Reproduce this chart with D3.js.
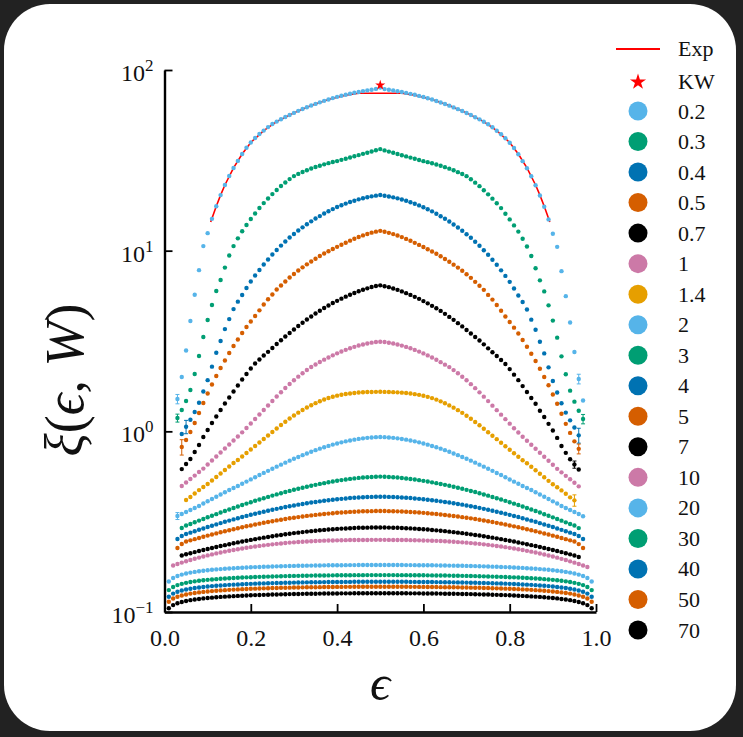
<!DOCTYPE html>
<html>
<head>
<meta charset="utf-8">
<script src="https://d3js.org/d3.v7.min.js"></script>
<style>
html, body { margin:0; padding:0; background:#222222; overflow:hidden; }
svg text { font-family: "Liberation Serif", "Times New Roman", serif; fill:#111; }
</style>
</head>
<body>
<script>

//DATA: epsilon grid (x values) shared by all W series
var eps = [0.01,0.02,0.03,0.04,0.05,0.06,0.07,0.08,0.09,0.10,
0.11,0.12,0.13,0.14,0.15,0.16,0.17,0.18,0.19,0.20,
0.21,0.22,0.23,0.24,0.25,0.26,0.27,0.28,0.29,0.30,
0.31,0.32,0.33,0.34,0.35,0.36,0.37,0.38,0.39,0.40,
0.41,0.42,0.43,0.44,0.45,0.46,0.47,0.48,0.49,0.50,
0.51,0.52,0.53,0.54,0.55,0.56,0.57,0.58,0.59,0.60,
0.61,0.62,0.63,0.64,0.65,0.66,0.67,0.68,0.69,0.70,
0.71,0.72,0.73,0.74,0.75,0.76,0.77,0.78,0.79,0.80,
0.81,0.82,0.83,0.84,0.85,0.86,0.87,0.88,0.89,0.90,
0.91,0.92,0.93,0.94,0.95,0.96,0.97,0.98,0.99];

var xi_0_2 = [null,null,
1.51,2.0,2.8,4.08,5.7,7.8,10.6,12.5,15.0,17.6,20.3,23.1,25.9,28.7,31.4,34.3,37.1,39.7,42.0,44.2,46.2,48.3,50.2,51.8,53.4,54.9,56.4,57.9,59.4,60.8,62.2,63.6,64.9,66.2,67.5,68.7,69.9,71.0,72.0,73.0,73.9,74.8,75.6,76.4,77.1,77.8,78.6,
80.0,
78.4,77.7,77.0,76.3,75.5,74.7,73.8,72.9,71.9,70.9,69.8,68.6,67.4,66.1,64.8,63.5,62.1,60.7,59.3,57.8,56.3,54.8,53.3,51.7,50.1,48.2,46.1,44.1,41.9,39.6,37.0,34.2,31.3,28.6,25.8,23.0,20.2,17.5,14.9,12.4,10.5,7.7,5.6,4.0,2.75,1.95,1.48,
null,null];

var xi_0_3 = [null,null,
1.185,1.312,1.472,1.693,2.076,2.61,3.33,4.13,5.00,5.98,6.88,8.06,9.4,10.6,11.7,12.8,13.86,14.96,16.05,17.21,18.34,19.43,20.57,21.65,22.78,23.83,24.90,25.87,26.6,27.25,27.86,28.47,29.02,29.54,30.04,30.50,30.93,31.32,31.81,32.29,32.80,33.30,33.81,34.34,34.86,35.40,35.95,
36.5,
35.9,35.35,34.8,34.3,33.75,33.25,32.75,32.25,31.75,31.3,30.9,30.45,30.0,29.5,29.0,28.45,27.85,27.2,26.55,25.85,24.85,23.8,22.75,21.6,20.5,19.4,18.3,17.2,16.0,14.9,13.8,12.75,11.65,10.55,9.35,8.0,6.85,5.95,4.98,4.1,3.3,2.6,2.07,1.68,1.46,1.30,1.17,
null,null];

var xi_0_4 = [null,null,null,
0.966,1.06,1.16,1.28,1.44,1.66,1.92,2.28,2.72,3.16,3.68,4.18,4.75,5.22,5.68,6.21,6.745,7.283,7.811,8.378,8.929,9.515,10.08,10.67,11.23,11.82,12.36,12.92,13.46,14.00,14.53,15.06,15.54,16.05,16.53,16.99,17.43,17.84,18.22,18.58,18.91,19.23,19.50,19.75,19.98,20.16,
20.32,
20.14,19.96,19.73,19.48,19.2,18.88,18.55,18.2,17.8,17.4,16.95,16.5,16.02,15.5,15.02,14.5,13.97,13.43,12.89,12.33,11.78,11.2,10.64,10.05,9.49,8.9,8.35,7.78,7.25,6.72,6.18,5.65,5.2,4.72,4.15,3.65,3.13,2.7,2.26,1.9,1.64,1.43,1.27,1.15,1.05,0.95,
null,null,null];

var xi_0_5 = [null,null,null,
0.819,0.895,0.991,1.112,1.263,1.435,1.619,1.816,2.023,2.240,2.465,2.713,2.966,3.221,3.499,3.778,4.053,4.346,4.673,5.031,5.383,5.715,6.091,6.410,6.745,7.097,7.421,7.761,8.084,8.398,8.714,9.020,9.335,9.638,9.925,10.21,10.50,10.78,11.07,11.36,11.64,11.91,12.15,12.37,12.58,12.74,
12.87,
12.72,12.55,12.35,12.13,11.89,11.62,11.34,11.05,10.76,10.48,10.19,9.9,9.61,9.31,9.0,8.69,8.37,8.06,7.74,7.4,7.07,6.72,6.39,6.07,5.69,5.36,5.0,4.65,4.32,4.03,3.75,3.48,3.2,2.94,2.69,2.45,2.22,2.0,1.8,1.6,1.42,1.25,1.1,0.98,0.88,0.8,
null,null,null];

var xi_0_7 = [null,null,null,
0.618,0.659,0.703,0.768,0.840,0.930,1.017,1.112,1.208,1.312,1.425,1.539,1.661,1.793,1.935,2.076,2.227,2.373,2.496,2.628,2.754,2.891,3.042,3.193,3.347,3.499,3.659,3.826,3.990,4.156,4.318,4.487,4.651,4.813,4.969,5.129,5.275,5.425,5.564,5.701,5.833,5.961,6.076,6.186,6.289,6.370,
6.427,
6.36,6.28,6.18,6.07,5.95,5.82,5.69,5.55,5.41,5.26,5.11,4.95,4.8,4.64,4.47,4.3,4.14,3.97,3.81,3.64,3.48,3.33,3.18,3.03,2.88,2.74,2.61,2.48,2.36,2.21,2.06,1.92,1.78,1.65,1.53,1.42,1.3,1.2,1.1,1.01,0.92,0.83,0.76,0.7,0.655,0.615,
null,null,null];

var xi_1 = [null,null,null,
0.498,0.521,0.545,0.569,0.595,0.622,0.655,0.689,0.725,0.763,0.803,0.845,0.889,0.936,0.987,1.043,1.105,1.170,1.239,1.312,1.389,1.472,1.558,1.646,1.736,1.827,1.918,2.008,2.097,2.184,2.270,2.342,2.418,2.493,2.564,2.634,2.702,2.765,2.825,2.884,2.935,2.984,3.026,3.065,3.097,3.121,
3.132,
3.12,3.095,3.063,3.024,2.982,2.933,2.883,2.823,2.763,2.7,2.632,2.562,2.49,2.415,2.34,2.268,2.182,2.095,2.006,1.916,1.825,1.734,1.644,1.556,1.47,1.387,1.31,1.237,1.168,1.103,1.041,0.985,0.934,0.887,0.843,0.801,0.761,0.723,0.687,0.653,0.62,0.593,0.567,0.543,0.519,0.496,
null,null,null];

var xi_1_4 = [null,null,null,null,
0.417,0.433,0.453,0.473,0.492,0.511,0.534,0.559,0.584,0.611,0.639,0.668,0.694,0.725,0.759,0.793,0.829,0.867,0.907,0.948,0.991,1.036,1.084,1.130,1.177,1.223,1.269,1.312,1.354,1.394,1.432,1.467,1.500,1.529,1.554,1.576,1.594,1.608,1.621,1.631,1.639,1.646,1.650,1.652,1.654,
1.655,
1.653,1.651,1.648,1.644,1.637,1.629,1.619,1.606,1.592,1.574,1.552,1.527,1.498,1.465,1.43,1.392,1.352,1.31,1.266,1.22,1.174,1.127,1.081,1.033,0.988,0.945,0.905,0.865,0.827,0.791,0.757,0.723,0.692,0.666,0.637,0.609,0.582,0.557,0.532,0.509,0.49,0.471,0.451,0.431,0.415,
null,null,null,null];

var xi_2 = [null,null,
0.340,0.3485,0.3576,0.3668,0.3763,0.3861,0.3986,0.4100,0.4222,0.4348,0.4472,0.4599,0.4735,0.4858,0.4983,0.5125,0.5269,0.5418,0.5572,0.5730,0.5886,0.6045,0.6209,0.6377,0.6542,0.6711,0.6884,0.7052,0.7215,0.7383,0.7545,0.7710,0.7870,0.8022,0.8166,0.8303,0.8442,0.8571,0.8691,0.8804,0.8904,0.8996,0.9078,0.9147,0.9205,0.9252,0.9288,
0.930,
0.9285,0.925,0.9203,0.9145,0.9075,0.8993,0.8901,0.8801,0.8688,0.8568,0.8439,0.83,0.8163,0.8019,0.7867,0.7707,0.7542,0.738,0.7212,0.7049,0.6881,0.6708,0.6539,0.6374,0.6206,0.6042,0.5883,0.5727,0.557,0.5416,0.5267,0.5123,0.4981,0.4856,0.4733,0.4597,0.447,0.4346,0.422,0.4098,0.3985,0.386,0.3762,0.3667,0.3575,0.3484,0.339,
null,null];

var xi_3 = [null,null,null,
0.2916,0.3011,0.3069,0.3136,0.3205,0.3271,0.3343,0.3411,0.3481,0.3553,0.3622,0.3692,0.3763,0.3836,0.3910,0.3980,0.4052,0.4125,0.4194,0.4264,0.4335,0.4408,0.4476,0.4544,0.4615,0.4680,0.4746,0.4813,0.4875,0.4937,0.5000,0.5057,0.5116,0.5168,0.5222,0.5275,0.5322,0.5370,0.5412,0.5453,0.5488,0.5523,0.5551,0.5572,0.5593,0.5608,
0.5615,
0.5606,0.559,0.557,0.5548,0.552,0.5485,0.545,0.5409,0.5367,0.5319,0.5272,0.5219,0.5165,0.5113,0.5055,0.4998,0.4935,0.4873,0.4811,0.4744,0.4678,0.4613,0.4542,0.4474,0.4406,0.4333,0.4262,0.4192,0.4123,0.405,0.3978,0.3908,0.3834,0.3761,0.369,0.362,0.3551,0.3479,0.3409,0.3341,0.3269,0.3203,0.3134,0.3067,0.3009,0.2914,
null,null,null];

var xi_4 = [null,null,
0.2535,0.2633,0.2701,0.2750,0.2799,0.2850,0.2901,0.2954,0.3003,0.3054,0.3105,0.3157,0.3205,0.3254,0.3304,0.3355,0.3403,0.3451,0.3499,0.3544,0.3589,0.3635,0.3681,0.3724,0.3767,0.3811,0.3850,0.3889,0.3929,0.3964,0.3999,0.4035,0.4066,0.4097,0.4128,0.4155,0.4182,0.4208,0.4230,0.4252,0.4274,0.4290,0.4307,0.4318,0.4329,0.4335,0.4341,
0.4346,
0.4341,0.4335,0.4328,0.4317,0.4305,0.4289,0.4272,0.4251,0.4229,0.4207,0.418,0.4154,0.4126,0.4096,0.4065,0.4034,0.3998,0.3963,0.3928,0.3888,0.3849,0.381,0.3766,0.3723,0.368,0.3634,0.3588,0.3543,0.3498,0.345,0.3402,0.3353,0.3303,0.3253,0.3204,0.3156,0.3104,0.3053,0.3002,0.2953,0.29,0.2849,0.2798,0.2749,0.27,0.2632,0.2534,
null,null];

var xi_5 = [null,null,
0.2260,0.2378,0.2455,0.2493,0.2531,0.2570,0.2610,0.2647,0.2684,0.2723,0.2761,0.2799,0.2836,0.2872,0.2909,0.2946,0.2980,0.3014,0.3049,0.3084,0.3116,0.3148,0.3180,0.3213,0.3242,0.3271,0.3300,0.3326,0.3351,0.3377,0.3403,0.3425,0.3447,0.3469,0.3486,0.3504,0.3522,0.3540,0.3553,0.3567,0.3581,0.3590,0.3599,0.3608,0.3613,0.3617,0.3622,
0.3622,
0.3621,0.3616,0.3612,0.3607,0.3598,0.3589,0.358,0.3566,0.3552,0.3539,0.3521,0.3503,0.3485,0.3468,0.3446,0.3424,0.3402,0.3376,0.335,0.3325,0.3299,0.327,0.3241,0.3212,0.3179,0.3147,0.3115,0.3083,0.3048,0.3013,0.2979,0.2945,0.2908,0.2871,0.2835,0.2798,0.276,0.2722,0.2683,0.2646,0.2609,0.2569,0.253,0.2492,0.2454,0.2376,0.2259,
null,null];

var xi_7 = [null,null,null,
0.2054,0.2086,0.2116,0.2146,0.2176,0.2204,0.2232,0.2260,0.2289,0.2318,0.2345,0.2372,0.2400,0.2428,0.2455,0.2481,0.2506,0.2531,0.2557,0.2580,0.2603,0.2626,0.2650,0.2670,0.2692,0.2712,0.2733,0.2750,0.2768,0.2786,0.2803,0.2818,0.2832,0.2847,0.2861,0.2872,0.2883,0.2894,0.2901,0.2909,0.2916,0.2924,0.2928,0.2931,0.2935,0.2935,
0.2936,
0.2934,0.2932,0.2929,0.2925,0.2917,0.291,0.2902,0.2893,0.2882,0.2871,0.286,0.2846,0.2831,0.2817,0.2802,0.2785,0.2767,0.2749,0.2732,0.2711,0.2691,0.2669,0.2649,0.2625,0.2602,0.2579,0.2556,0.253,0.2505,0.248,0.2454,0.2427,0.2399,0.2371,0.2344,0.2317,0.2288,0.2259,0.2231,0.2203,0.2175,0.2145,0.2115,0.2085,0.2053,0.2015,
null,null,null];

var xi_10 = [null,
0.1809,0.1843,0.1877,0.1908,0.1940,0.1970,0.2000,0.2028,0.2057,0.2083,0.2110,0.2134,0.2159,0.2181,0.2204,0.2226,0.2246,0.2266,0.2287,0.2304,0.2322,0.2339,0.2354,0.2369,0.2384,0.2396,0.2408,0.2421,0.2430,0.2439,0.2449,0.2458,0.2464,0.2470,0.2477,0.2483,0.2486,0.2489,0.2493,0.2496,0.2499,0.2502,0.2502,0.2505,0.2505,0.2505,0.2508,0.2508,
0.2508,
0.2508,0.2507,0.2505,0.2504,0.2503,0.2501,0.2498,0.2495,0.2492,0.2488,0.2485,0.2481,0.2476,0.247,0.2463,0.2457,0.2448,0.2438,0.2429,0.242,0.2407,0.2395,0.2383,0.2368,0.2353,0.2338,0.2321,0.2303,0.2286,0.2265,0.2245,0.2225,0.2203,0.218,0.2158,0.2133,0.2109,0.2082,0.2056,0.2027,0.1999,0.1969,0.1939,0.1907,0.1876,0.1842,0.1808,0.1775,
null];

var xi_20 = [
0.1475,0.1542,0.1582,0.1611,0.1633,0.1652,0.1667,0.1681,0.1692,0.1703,0.1712,0.1721,0.1728,0.1735,0.1742,0.1748,0.1754,0.1759,0.1763,0.1768,0.1772,0.1776,0.1780,0.1783,0.1786,0.1789,0.1792,0.1795,0.1797,0.1799,0.1802,0.1804,0.1805,0.1807,0.1809,0.1810,0.1812,0.1813,0.1814,0.1815,0.1816,0.1817,0.1818,0.1818,0.1819,0.1819,0.1820,0.1820,0.1820,
0.1820,
0.1820,0.1820,0.1820,0.1819,0.1819,0.1818,0.1818,0.1817,0.1816,0.1815,0.1814,0.1813,0.1812,0.1810,0.1809,0.1807,0.1805,0.1804,0.1802,0.1799,0.1797,0.1795,0.1792,0.1789,0.1786,0.1783,0.1780,0.1776,0.1772,0.1768,0.1763,0.1759,0.1754,0.1748,0.1742,0.1735,0.1728,0.1721,0.1712,0.1703,0.1692,0.1681,0.1667,0.1652,0.1633,0.1611,0.1582,0.1542,0.1475];

var xi_30 = [
0.1322,0.1376,0.1409,0.1432,0.1450,0.1465,0.1478,0.1488,0.1498,0.1506,0.1514,0.1520,0.1527,0.1532,0.1537,0.1542,0.1547,0.1551,0.1555,0.1558,0.1562,0.1565,0.1568,0.1570,0.1573,0.1575,0.1578,0.1580,0.1582,0.1584,0.1585,0.1587,0.1588,0.1590,0.1591,0.1592,0.1593,0.1594,0.1595,0.1596,0.1597,0.1598,0.1598,0.1599,0.1599,0.1599,0.1600,0.1600,0.1600,
0.1600,
0.1600,0.1600,0.1600,0.1599,0.1599,0.1599,0.1598,0.1598,0.1597,0.1596,0.1595,0.1594,0.1593,0.1592,0.1591,0.1590,0.1588,0.1587,0.1585,0.1584,0.1582,0.1580,0.1578,0.1575,0.1573,0.1570,0.1568,0.1565,0.1562,0.1558,0.1555,0.1551,0.1547,0.1542,0.1537,0.1532,0.1527,0.1520,0.1514,0.1506,0.1498,0.1488,0.1478,0.1465,0.1450,0.1432,0.1409,0.1376,0.1322];

var xi_40 = [
0.1214,0.1264,0.1294,0.1316,0.1332,0.1346,0.1358,0.1367,0.1376,0.1384,0.1391,0.1397,0.1403,0.1408,0.1413,0.1417,0.1421,0.1425,0.1428,0.1432,0.1435,0.1438,0.1440,0.1443,0.1445,0.1447,0.1449,0.1451,0.1453,0.1455,0.1456,0.1458,0.1459,0.1461,0.1462,0.1463,0.1464,0.1465,0.1466,0.1466,0.1467,0.1468,0.1468,0.1469,0.1469,0.1469,0.1470,0.1470,0.1470,
0.1470,
0.1470,0.1470,0.1470,0.1469,0.1469,0.1469,0.1468,0.1468,0.1467,0.1466,0.1466,0.1465,0.1464,0.1463,0.1462,0.1461,0.1459,0.1458,0.1456,0.1455,0.1453,0.1451,0.1449,0.1447,0.1445,0.1443,0.1440,0.1438,0.1435,0.1432,0.1428,0.1425,0.1421,0.1417,0.1413,0.1408,0.1403,0.1397,0.1391,0.1384,0.1376,0.1367,0.1358,0.1346,0.1332,0.1316,0.1294,0.1264,0.1214];

var xi_50 = [
0.1140,0.1187,0.1215,0.1235,0.1251,0.1264,0.1274,0.1284,0.1292,0.1299,0.1305,0.1311,0.1317,0.1321,0.1326,0.1330,0.1334,0.1338,0.1341,0.1344,0.1347,0.1350,0.1352,0.1354,0.1357,0.1359,0.1361,0.1363,0.1364,0.1366,0.1367,0.1369,0.1370,0.1371,0.1372,0.1373,0.1374,0.1375,0.1376,0.1377,0.1377,0.1378,0.1378,0.1379,0.1379,0.1379,0.1380,0.1380,0.1380,
0.1380,
0.1380,0.1380,0.1380,0.1379,0.1379,0.1379,0.1378,0.1378,0.1377,0.1377,0.1376,0.1375,0.1374,0.1373,0.1372,0.1371,0.1370,0.1369,0.1367,0.1366,0.1364,0.1363,0.1361,0.1359,0.1357,0.1354,0.1352,0.1350,0.1347,0.1344,0.1341,0.1338,0.1334,0.1330,0.1326,0.1321,0.1317,0.1311,0.1305,0.1299,0.1292,0.1284,0.1274,0.1264,0.1251,0.1235,0.1215,0.1187,0.1140];

var xi_70 = [
0.1049,0.1092,0.1118,0.1137,0.1151,0.1163,0.1173,0.1181,0.1189,0.1195,0.1201,0.1207,0.1212,0.1216,0.1220,0.1224,0.1228,0.1231,0.1234,0.1237,0.1240,0.1242,0.1244,0.1247,0.1249,0.1250,0.1252,0.1254,0.1256,0.1257,0.1258,0.1260,0.1261,0.1262,0.1263,0.1264,0.1265,0.1266,0.1266,0.1267,0.1268,0.1268,0.1268,0.1269,0.1269,0.1269,0.1270,0.1270,0.1270,
0.1270,
0.1270,0.1270,0.1270,0.1269,0.1269,0.1269,0.1268,0.1268,0.1268,0.1267,0.1266,0.1266,0.1265,0.1264,0.1263,0.1262,0.1261,0.1260,0.1258,0.1257,0.1256,0.1254,0.1252,0.1250,0.1249,0.1247,0.1244,0.1242,0.1240,0.1237,0.1234,0.1231,0.1228,0.1224,0.1220,0.1216,0.1212,0.1207,0.1201,0.1195,0.1189,0.1181,0.1173,0.1163,0.1151,0.1137,0.1118,0.1092,0.1049];

//experimental curve (red line) and KW point (red star)
var expEps = [0.107,0.12,0.13,0.14,0.16,0.18,0.20,0.23,0.26,0.30,0.34,0.38,0.42,0.45,0.47,0.50,0.53,0.55,0.58,0.62,0.66,0.70,0.74,0.77,0.80,0.82,0.84,0.86,0.87,0.88,0.893];
var expXi  = [14.4,17.6,20.3,23.1,28.7,34.3,39.7,46.2,51.8,57.9,63.6,68.7,72.6,74.3,74.4,74.4,74.4,74.3,72.6,68.7,63.6,57.9,51.8,46.2,39.7,34.3,28.7,23.1,20.3,17.6,14.4];
var kwEps = [0.5];
var kwXi  = [82.5];

//small error bars at the edges: [series index, eps, half width]
var errBars = [[0,0.03,0.09],[0,0.96,0.12],[1,0.03,0.06],[1,0.97,0.07],[2,0.05,0.09],[2,0.96,0.09],
  [3,0.04,0.08],[3,0.96,0.05],[4,0.95,0.03],[6,0.95,0.03],[7,0.03,0.015]];

var seriesLabels = ['0.2','0.3','0.4','0.5','0.7','1','1.4','2','3','4','5','7','10','20','30','40','50','70'];
var seriesValues = [xi_0_2,xi_0_3,xi_0_4,xi_0_5,xi_0_7,xi_1,xi_1_4,xi_2,xi_3,xi_4,xi_5,xi_7,xi_10,xi_20,xi_30,xi_40,xi_50,xi_70];

var xTicks = [0.0,0.2,0.4,0.6,0.8,1.0];
var yTicks = [0.1,1,10,100];
var yTickExp = ['\u22121','0','1','2'];

//colorblind palette, repeated in the order of the legend
var colors = ['#56B4E9','#009E73','#0072B2','#D55E00','#000000','#CC79A7','#E69F00',
  '#56B4E9','#009E73','#0072B2','#D55E00','#000000','#CC79A7',
  '#56B4E9','#009E73','#0072B2','#D55E00','#000000'];

seriesValues.forEach(function(s, k){
	if(s.length !== eps.length){
		throw new Error('series ' + seriesLabels[k] + ' has ' + s.length + ' values');
	}
});


//SVG AND CARD
var svg = d3.select('body').append('svg')
.attr('width', 743)
.attr('height', 737)
.attr('font-family', '"Liberation Serif", "Times New Roman", serif');

svg.append('rect')
.attr('x', 4)
.attr('y', 4)
.attr('width', 732)
.attr('height', 727)
.attr('rx', 46)
.attr('fill', '#ffffff');

var x = d3.scaleLinear().domain([0, 1]).range([164.5, 596]);
var y = d3.scaleLog().domain([0.1, 100]).range([612, 70]);

var plot = svg.append('g');

//red experimental line
var line = d3.line()
.x(function(d){ return x(d[0]); })
.y(function(d){ return y(d[1]); });

plot.append('path')
.datum(d3.zip(expEps, expXi))
.attr('d', line)
.attr('fill', 'none')
.attr('stroke', '#ff0000')
.attr('stroke-width', 1.6);

//dots for every W
seriesValues.forEach(function(vals, k){
	var pts = eps.map(function(e, i){ return [e, vals[i]]; })
	.filter(function(d){ return d[1] !== null; });

	plot.append('g')
	.selectAll('circle')
	.data(pts)
	.enter()
	.append('circle')
	.attr('cx', function(d){ return x(d[0]); })
	.attr('cy', function(d){ return y(d[1]); })
	.attr('r', 2.2)
	.attr('fill', colors[k]);
});

//error bars
errBars.forEach(function(e){
	var vals = seriesValues[e[0]];
	var i = eps.indexOf(e[1]);
	var v = vals[i];
	var g = plot.append('g').attr('stroke', colors[e[0]]).attr('stroke-width', 1);
	g.append('line')
	.attr('x1', x(e[1])).attr('x2', x(e[1]))
	.attr('y1', y(v - e[2])).attr('y2', y(v + e[2]));
	[v - e[2], v + e[2]].forEach(function(b){
		g.append('line')
		.attr('x1', x(e[1]) - 2).attr('x2', x(e[1]) + 2)
		.attr('y1', y(b)).attr('y2', y(b));
	});
});

//KW star
plot.selectAll('.kw')
.data(d3.zip(kwEps, kwXi))
.enter()
.append('path')
.attr('class', 'kw')
.attr('d', d3.symbol().type(d3.symbolStar).size(32))
.attr('transform', function(d){ return 'translate(' + x(d[0]) + ',' + y(d[1]) + ')'; })
.attr('fill', '#ff0000');


//AXES
var xAxis = d3.axisBottom(x)
.tickValues(xTicks)
.tickFormat(d3.format('.1f'))
.tickSizeInner(-8)
.tickSizeOuter(0)
.tickPadding(17);

var gx = svg.append('g')
.attr('transform', 'translate(0,612)')
.call(xAxis);

gx.attr('font-family', null).attr('font-size', null);
gx.select('.domain').attr('stroke', '#000').attr('stroke-width', 2.4);
gx.selectAll('.tick line').attr('stroke', '#000').attr('stroke-width', 1.8);
gx.selectAll('.tick text').attr('font-size', 24).attr('fill', '#111');

var yAxis = d3.axisLeft(y)
.tickValues(yTicks)
.tickFormat(function(){ return ''; })
.tickSizeInner(-8)
.tickSizeOuter(0);

var gy = svg.append('g')
.attr('transform', 'translate(164.5,0)')
.call(yAxis);

gy.attr('font-family', null).attr('font-size', null);
gy.select('.domain').attr('stroke', '#000').attr('stroke-width', 2.4);
gy.selectAll('.tick line').attr('stroke', '#000').attr('stroke-width', 1.8);
gy.selectAll('.tick text').remove();

//tick labels 10^k with superscript
gy.selectAll('.tick').each(function(d, i){
	var t = d3.select(this).append('text')
	.attr('x', -11)
	.attr('y', 10.5)
	.attr('text-anchor', 'end')
	.attr('font-size', 24);
	t.append('tspan').text('10');
	t.append('tspan')
	.attr('font-size', 17)
	.attr('dy', -10)
	.text(yTickExp[i]);
});

//axis titles
var ylab = svg.append('text')
.attr('transform', 'translate(83,380) rotate(-90)')
.attr('text-anchor', 'middle')
.attr('font-size', 54);
ylab.append('tspan').attr('font-style', 'italic').text('\u03BE');
ylab.append('tspan').text('(');
ylab.append('tspan').attr('font-style', 'italic').text('\u03F5');
ylab.append('tspan').text(', ');
ylab.append('tspan').attr('font-style', 'italic').text('W');
ylab.append('tspan').text(')');

svg.append('text')
.attr('x', 380)
.attr('y', 700)
.attr('text-anchor', 'middle')
.attr('font-size', 50)
.attr('font-style', 'italic')
.text('\u03F5');


//LEGEND
var legend = svg.append('g');
var legX = 638, legText = 678, rowY0 = 111, rowStep = 30.53;

legend.append('line')
.attr('x1', 616).attr('x2', 660)
.attr('y1', 49).attr('y2', 49)
.attr('stroke', '#ff0000')
.attr('stroke-width', 2.2);
legend.append('text')
.attr('x', legText).attr('y', 56)
.attr('font-size', 22)
.text('Exp');

legend.append('path')
.attr('d', d3.symbol().type(d3.symbolStar).size(80))
.attr('transform', 'translate(' + legX + ',82)')
.attr('fill', '#ff0000');
legend.append('text')
.attr('x', legText).attr('y', 89)
.attr('font-size', 22)
.text('KW');

var rows = legend.selectAll('.row')
.data(seriesLabels)
.enter()
.append('g')
.attr('class', 'row')
.attr('transform', function(d, i){ return 'translate(0,' + (rowY0 + i * rowStep) + ')'; });

rows.append('circle')
.attr('cx', legX)
.attr('cy', 0)
.attr('r', 9.5)
.attr('fill', function(d, i){ return colors[i]; });

rows.append('text')
.attr('x', legText)
.attr('y', 7.5)
.attr('font-size', 22)
.text(function(d){ return d; });

</script>
</body>
</html>
